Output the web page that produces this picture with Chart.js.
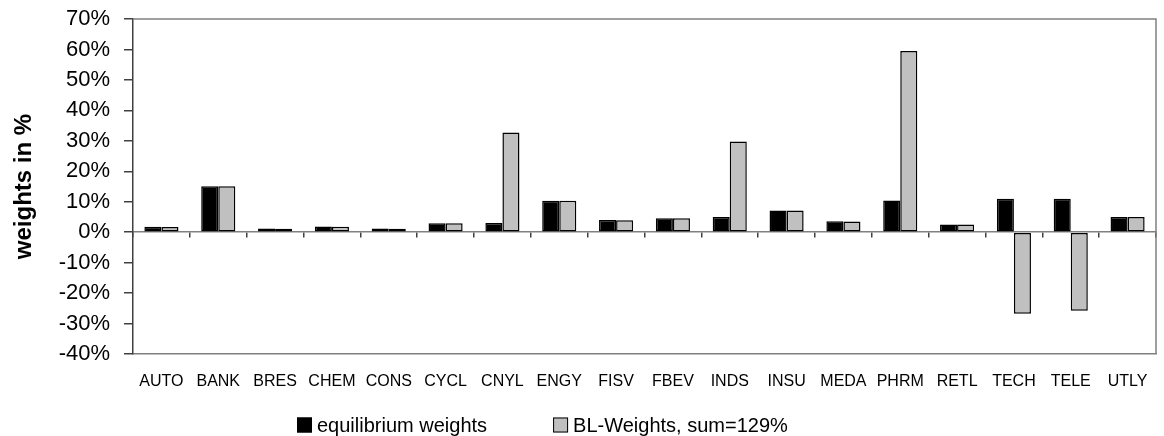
<!DOCTYPE html>
<html>
<head>
<meta charset="utf-8">
<script src="https://cdn.jsdelivr.net/npm/chart.js@4/dist/chart.umd.min.js"></script>
<style>
  html, body { margin: 0; padding: 0; background: #ffffff; }
  #wrap { width: 1164px; height: 436px; position: relative; }
</style>
</head>
<body>
<div id="wrap"><canvas id="c" width="1164" height="436"></canvas></div>
<script>
// Sector codes
const sectors = ['AUTO', 'BANK', 'BRES', 'CHEM', 'CONS', 'CYCL', 'CNYL', 'ENGY', 'FISV',
                 'FBEV', 'INDS', 'INSU', 'MEDA', 'PHRM', 'RETL', 'TECH', 'TELE', 'UTLY'];

// Market-equilibrium portfolio weights (%)
const equilibriumWeights = [1.8, 15.1, 1.2, 1.9, 1.2, 2.9, 3.0, 10.3, 4.0,
                            4.6, 5.0, 7.1, 3.6, 10.4, 2.5, 11.0, 11.0, 5.0];

// Black-Litterman weights after views (%)
const blWeights = [1.7, 15.1, 1.1, 1.8, 1.1, 2.9, 32.7, 10.3, 3.9,
                   4.6, 29.8, 7.1, 3.5, 59.5, 2.5, -26.8, -25.8, 5.0];

const seriesNames = ['equilibrium weights', 'BL-Weights, sum=129%'];
const yMin = -40, yMax = 70, yStep = 10;

const FONT = '"Liberation Sans", Arial, sans-serif';
const AXIS_GRAY = '#808080';

// Gray frame along the top and right edges of the plot area
const frame = {
  id: 'frame',
  beforeDatasetsDraw(chart) {
    const { ctx, chartArea: a } = chart;
    ctx.save();
    ctx.strokeStyle = AXIS_GRAY;
    ctx.lineWidth = 1.5;
    ctx.beginPath();
    ctx.moveTo(a.left, a.top);
    ctx.lineTo(a.right, a.top);
    ctx.lineTo(a.right, a.bottom);
    ctx.stroke();
    ctx.restore();
  }
};

// Legend row below the category labels
const bottomLegend = {
  id: 'bottomLegend',
  afterDraw(chart) {
    const { ctx } = chart;
    const y = 425, box = 15, gapText = 5, gapItems = 66;
    let x = 297;
    ctx.save();
    ctx.font = '20px ' + FONT;
    ctx.textBaseline = 'middle';
    ctx.textAlign = 'left';
    chart.data.datasets.forEach(ds => {
      ctx.fillStyle = ds.backgroundColor;
      ctx.fillRect(x, y - box / 2, box, box);
      ctx.strokeStyle = '#000000';
      ctx.lineWidth = 1;
      ctx.strokeRect(x + 0.5, y - box / 2 + 0.5, box - 1, box - 1);
      x += box + gapText;
      ctx.fillStyle = '#000000';
      ctx.fillText(ds.label, x, y + 1);
      x += ctx.measureText(ds.label).width + gapItems;
    });
    ctx.restore();
  }
};

new Chart(document.getElementById('c'), {
  type: 'bar',
  data: {
    labels: sectors,
    datasets: [
      {
        label: seriesNames[0],
        data: equilibriumWeights,
        backgroundColor: '#000000',
        borderColor: '#000000',
        borderWidth: 1.5,
        borderSkipped: false
      },
      {
        label: seriesNames[1],
        data: blWeights,
        backgroundColor: '#C0C0C0',
        borderColor: '#000000',
        borderWidth: 1.5,
        borderSkipped: false
      }
    ]
  },
  options: {
    responsive: false,
    animation: false,
    devicePixelRatio: 1,
    layout: { padding: { top: 19, right: 8, left: 0, bottom: 0 } },
    datasets: { bar: { categoryPercentage: 0.6, barPercentage: 1.0 } },
    plugins: {
      legend: { display: false },
      tooltip: { enabled: false }
    },
    scales: {
      x: {
        position: 'bottom',
        grid: { display: false, drawTicks: false },
        border: { display: true, color: AXIS_GRAY, width: 1.5 },
        ticks: {
          color: '#000000',
          font: { family: FONT, size: 16 },
          padding: 18,
          maxRotation: 0,
          autoSkip: false
        },
        afterFit(scale) {
          scale.height = 82;
          scale.paddingLeft = 0;
          scale.paddingRight = 0;
        }
      },
      x0: {
        axis: 'x',
        type: 'category',
        position: { y: 0 },
        offset: true,
        grid: {
          display: true,
          offset: true,
          drawOnChartArea: false,
          drawTicks: true,
          tickLength: 5,
          color: '#404040',
          lineWidth: 1.5
        },
        border: { display: true, color: AXIS_GRAY, width: 1.5 },
        ticks: { display: false }
      },
      y: {
        min: yMin,
        max: yMax,
        position: 'left',
        grid: {
          display: true,
          drawOnChartArea: false,
          drawTicks: true,
          tickLength: 9,
          color: '#404040',
          lineWidth: 1.5
        },
        border: { display: true, color: '#404040', width: 1.5 },
        ticks: {
          stepSize: yStep,
          color: '#000000',
          font: { family: FONT, size: 22 },
          padding: 14,
          callback: v => v + '%'
        },
        title: {
          display: true,
          text: 'weights in %',
          color: '#000000',
          font: { family: FONT, size: 24, weight: 'bold' },
          padding: { top: 10, bottom: 0 }
        },
        afterFit(scale) {
          scale.width = 133;
          scale.paddingTop = 0;
          scale.paddingBottom = 0;
        }
      }
    }
  },
  plugins: [frame, bottomLegend]
});
</script>
</body>
</html>
